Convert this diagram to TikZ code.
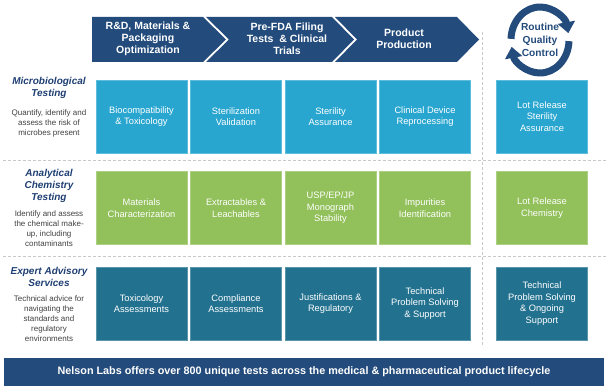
\documentclass[tikz,border=0pt]{standalone}
\usepackage{fontspec}
\setmainfont{Liberation Sans}
\usetikzlibrary{arrows.meta}
\definecolor{navy}{HTML}{234B7B}
\definecolor{cyanbox}{HTML}{28A6D0}
\definecolor{greenbox}{HTML}{92C05A}
\definecolor{tealbox}{HTML}{22718F}
\definecolor{titleblue}{HTML}{1F3F73}
\definecolor{desc}{HTML}{404040}
\definecolor{dashgrey}{HTML}{C8C8C8}
\begin{document}
\begin{tikzpicture}[x=1pt,y=1pt,
  box/.style={minimum width=91pt, minimum height=73pt, inner sep=0pt, align=center, text=white, line width=0.6pt, font=\fontsize{9.3}{11.5}\selectfont},
  cbox/.style={box, fill=cyanbox, draw=cyanbox!75!white},
  gbox/.style={box, fill=greenbox, draw=greenbox!75!white},
  tbox/.style={box, fill=tealbox, draw=tealbox!75!white},
  chev/.style={fill=navy, draw=none},
  chevtext/.style={text=white, font=\bfseries\fontsize{10.5}{12}\selectfont, align=center, inner sep=0pt},
  rowtitle/.style={text=titleblue, font=\bfseries\itshape\fontsize{10}{12}\selectfont, align=center, inner sep=0pt},
  rowdesc/.style={text=desc, font=\fontsize{8}{10}\selectfont, align=center, inner sep=0pt},
  sep/.style={dashgrey, dash pattern=on 3pt off 2pt, line width=0.8pt},
  ring/.style={navy, line width=7pt, -{Triangle[width=17pt,length=11pt]}},
]
\useasboundingbox (0,0) rectangle (608,389);

% separators
\draw[sep] (3,229) -- (606,229);
\draw[sep] (3,133) -- (606,133);
\draw[sep] (482,357) -- (482,42);

% chevrons
\fill[chev] (92,372) -- (203,372) -- (226,349.5) -- (203,327) -- (92,327) -- cycle;
\fill[chev] (206,372) -- (332,372) -- (354,349.5) -- (332,327) -- (206,327) -- (229,349.5) -- cycle;
\fill[chev] (335,372) -- (457,372) -- (479,349.5) -- (457,327) -- (335,327) -- (357,349.5) -- cycle;
\node[chevtext] (c1) at (148,350) {R\&D, Materials \&\\Packaging\\Optimization};
\node[chevtext] (c2) at (287,350) {Pre-FDA Filing\\Tests \ \& Clinical\\Trials};
\node[chevtext] (c3) at (404,350) {Product\\Production};

% routine quality control ring
\draw[ring] (540,349) ++(178:29 and 33) arc[start angle=178, end angle=12, x radius=29, y radius=33];
\draw[ring] (540,349) ++(-2:29 and 33) arc[start angle=-2, end angle=-168, x radius=29, y radius=33];
\node[text=navy, font=\bfseries\fontsize{10.2}{13}\selectfont, align=center, inner sep=0pt] (rqc) at (540,349.5) {Routine\\Quality\\Control};

% row labels
\node[rowtitle] (t1) at (49,301) {Microbiological\\Testing};
\node[rowdesc] (d1) at (49,266) {Quantify, identify and\\assess the risk of\\microbes present};
\node[rowtitle] (t2) at (49,203) {Analytical\\Chemistry\\Testing};
\node[rowdesc] (d2) at (49,160) {Identify and assess\\the chemical make-\\up, including\\contaminants};
\node[rowtitle] (t3) at (49,112) {Expert Advisory\\Services};
\node[rowdesc] (d3) at (49,70) {Technical advice for\\navigating the\\standards and\\regulatory\\environments};

% row 1
\node[cbox] (m1) at (141.5,272.5) {Biocompatibility\\\& Toxicology};
\node[cbox] (m2) at (236,272.5) {Sterilization\\Validation};
\node[cbox] (m3) at (330.5,272.5) {Sterility\\Assurance};
\node[cbox] (m4) at (425,272.5) {Clinical Device\\Reprocessing};
\node[cbox] (m5) at (542,272.5) {Lot Release\\Sterility\\Assurance};

% row 2
\node[gbox] (a1) at (141.5,181) {Materials\\Characterization};
\node[gbox] (a2) at (236,181) {Extractables \&\\Leachables};
\node[gbox] (a3) at (330.5,181) {USP/EP/JP\\Monograph\\Stability};
\node[gbox] (a4) at (425,181) {Impurities\\Identification};
\node[gbox] (a5) at (542,181) {Lot Release\\Chemistry};

% row 3
\node[tbox] (e1) at (141.5,85.5) {Toxicology\\Assessments};
\node[tbox] (e2) at (236,85.5) {Compliance\\Assessments};
\node[tbox] (e3) at (330.5,85.5) {Justifications \&\\Regulatory};
\node[tbox] (e4) at (425,85.5) {Technical\\Problem Solving\\\& Support};
\node[tbox] (e5) at (542,85.5) {Technical\\Problem Solving\\\& Ongoing\\Support};

% banner
\node[fill=navy, minimum width=600pt, minimum height=28pt, inner sep=0pt, text=white, font=\bfseries\fontsize{10.8}{12}\selectfont] (banner) at (304,17) {Nelson Labs offers over 800 unique tests across the medical \& pharmaceutical product lifecycle};
\end{tikzpicture}
\end{document}
